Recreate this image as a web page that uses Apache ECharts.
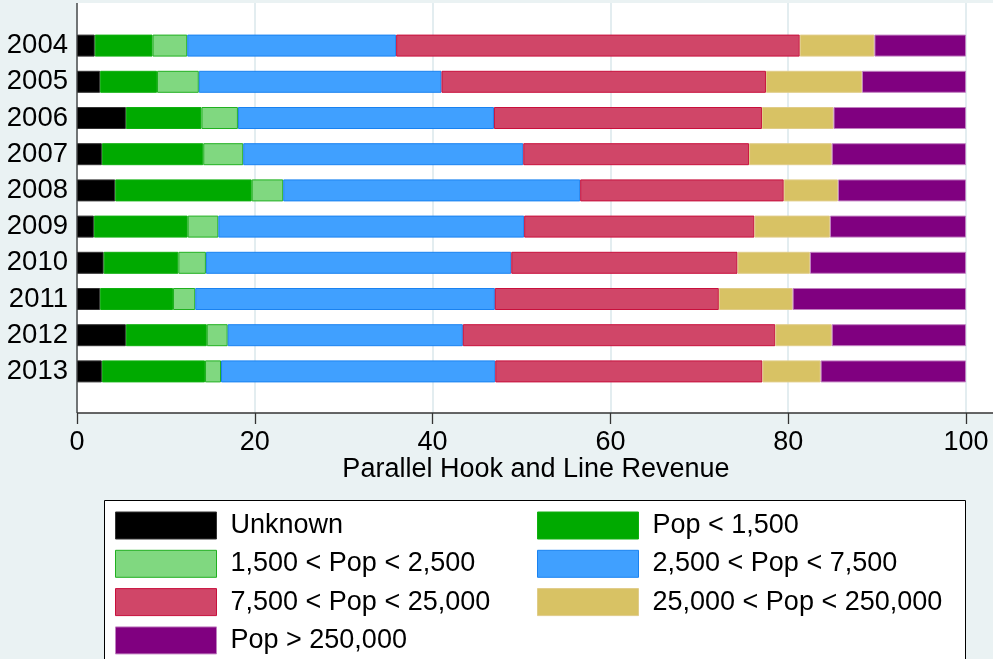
<!DOCTYPE html>
<html>
<head>
<meta charset="utf-8">
<script src="https://cdn.jsdelivr.net/npm/echarts@6/dist/echarts.min.js"></script>
<style>html,body{margin:0;padding:0;background:#eaf2f3;}#c{width:993px;height:659px;}</style>
</head>
<body>
<div id="c"></div>
<script>
const years = ['2004','2005','2006','2007','2008','2009','2010','2011','2012','2013'];
const xTicks = [0, 20, 40, 60, 80, 100];
const xTitle = 'Parallel Hook and Line Revenue';
const seriesNames = ['Unknown','Pop < 1,500','1,500 < Pop < 2,500','2,500 < Pop < 7,500','7,500 < Pop < 25,000','25,000 < Pop < 250,000','Pop > 250,000'];
const unknown      = [2.0, 2.6, 5.5, 2.8, 4.3, 1.9, 3.0, 2.6, 5.5, 2.8];
const popLt1500    = [6.5, 6.4, 8.5, 11.4, 15.35, 10.55, 8.4, 8.2, 9.1, 11.6];
const pop1500to2500   = [3.9, 4.7, 4.1, 4.5, 3.55, 3.45, 3.1, 2.5, 2.35, 1.8];
const pop2500to7500   = [23.5, 27.3, 28.8, 31.5, 33.4, 34.4, 34.35, 33.7, 26.45, 30.85];
const pop7500to25000  = [45.4, 36.5, 30.15, 25.4, 22.9, 25.9, 25.45, 25.2, 35.15, 30.05];
const pop25000to250000 = [8.4, 10.8, 8.05, 9.3, 6.1, 8.5, 8.15, 8.3, 6.35, 6.55];
const popGt250000  = [10.3, 11.7, 14.9, 15.1, 14.4, 15.3, 17.55, 19.5, 15.1, 16.35];

const values = [unknown, popLt1500, pop1500to2500, pop2500to7500, pop7500to25000, pop25000to250000, popGt250000];
const fills   = ['#000000','#00aa00','#80d880','#40a0ff','#d04668','#d8c264','#800080'];
const borders = ['#333333','#10b010','#20b020','#1a82f0','#c8103c','#e0cc88','#c080c0'];

const FONT = "'Liberation Sans', Arial, sans-serif";
const chart = echarts.init(document.getElementById('c'), null, {renderer:'canvas'});

const series = values.map((v, i) => ({
  name: seriesNames[i],
  type: 'bar',
  stack: 'total',
  xAxisIndex: 0,
  yAxisIndex: 0,
  barWidth: 22,
  data: v,
  itemStyle: {color: fills[i], borderColor: borders[i], borderWidth: 1},
  emphasis: {disabled: true},
  z: 5
}));

const legendText = {fontSize: 27, color: '#000', fontFamily: FONT, padding: [2,0,0,9]};

chart.setOption({
  backgroundColor: '#eaf2f3',
  animation: false,
  textStyle: {fontFamily: FONT},
  grid: [
    {left: 77, right: 27, top: 27.5, bottom: 269.5},
    {left: 77, right: 27, top: 3, bottom: 246}
  ],
  xAxis: [
    {gridIndex: 0, type: 'value', min: 0, max: 100, show: false},
    {gridIndex: 1, type: 'value', min: 0, max: 100, interval: 20,
     axisLine: {show: false},
     axisTick: {show: true, inside: false, length: 11, lineStyle: {color: '#333', width: 1.3}},
     axisLabel: {color: '#000', fontSize: 27, fontFamily: FONT, margin: 16,
                 formatter: v => xTicks.includes(v) ? String(v) : ''},
     splitLine: {show: true, lineStyle: {color: '#e3edf0', width: 2}}}
  ],
  yAxis: [
    {gridIndex: 0, type: 'category', data: years, inverse: true,
     axisLine: {show: false}, axisTick: {show: false}, splitLine: {show: false},
     axisLabel: {color: '#000', fontSize: 27.5, fontFamily: FONT, margin: 9, interval: 0, hideOverlap: false, padding: [5,0,0,0]}},
    {gridIndex: 1, type: 'value', min: 0, max: 1, show: false}
  ],
  legend: [
    {orient: 'vertical', left: 115, top: 511.5, itemWidth: 101, itemHeight: 27, itemGap: 10.3,
     icon: 'rect', selectedMode: false, itemStyle: {borderWidth: 1},
     textStyle: legendText, padding: 0,
     data: [seriesNames[0], seriesNames[2], seriesNames[4], seriesNames[6]]},
    {orient: 'vertical', left: 537, top: 511.5, itemWidth: 101, itemHeight: 27, itemGap: 10.3,
     icon: 'rect', selectedMode: false, itemStyle: {borderWidth: 1},
     textStyle: legendText, padding: 0,
     data: [seriesNames[1], seriesNames[3], seriesNames[5]]}
  ],
  graphic: [
    {type: 'rect', z: -10, silent: true, shape: {x: 77, y: 3, width: 916, height: 410}, style: {fill: '#ffffff'}},
    {type: 'line', z: 10, silent: true, shape: {x1: 77, y1: 413, x2: 993, y2: 413}, style: {stroke: '#333', lineWidth: 1.3}},
    {type: 'line', z: 10, silent: true, shape: {x1: 77, y1: 3, x2: 77, y2: 413}, style: {stroke: '#333', lineWidth: 1.3}},
    {type: 'text', z: 10, silent: true, x: 536, y: 470,
     style: {text: xTitle, font: "27px 'Liberation Sans', Arial, sans-serif", fill: '#000', textAlign: 'center', textVerticalAlign: 'middle'}},
    {type: 'rect', z: -5, silent: true, shape: {x: 104.5, y: 500.5, width: 861, height: 200}, style: {fill: '#ffffff', stroke: '#000', lineWidth: 1}}
  ],
  series: series
});
</script>
</body>
</html>
